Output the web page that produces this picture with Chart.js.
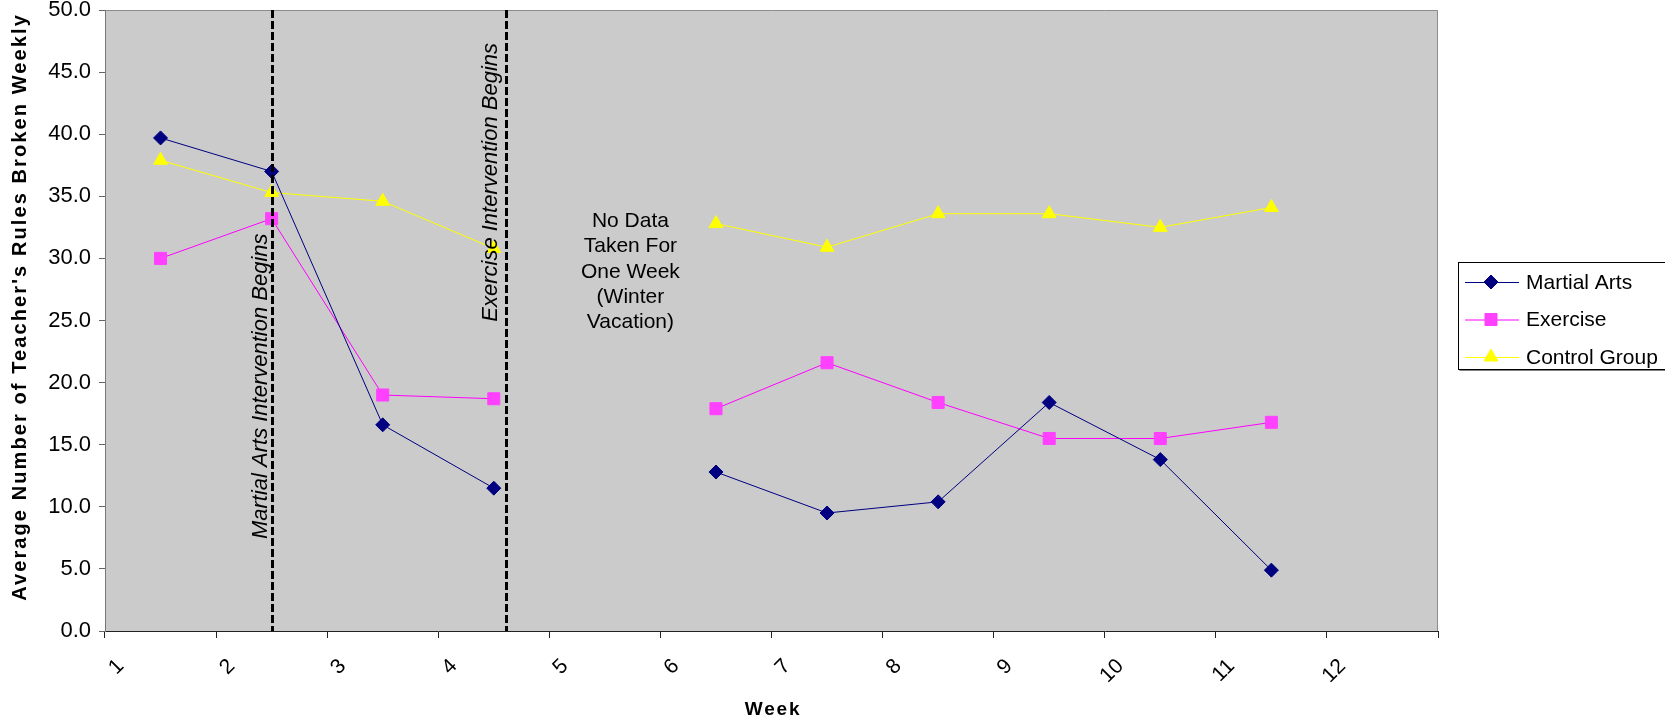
<!DOCTYPE html>
<html>
<head>
<meta charset="utf-8">
<title>Teacher's Rules Broken Weekly</title>
<script src="https://cdn.jsdelivr.net/npm/chart.js@4.4.0/dist/chart.umd.min.js"></script>
<style>
  html, body { margin: 0; padding: 0; background: #fff; }
  #wrap { width: 1665px; height: 721px; position: relative; }
</style>
</head>
<body>
<div id="wrap"><canvas id="rulesChart"></canvas></div>
<script>
// weekly averages, week 5 and week 12 have no data
const weeks = ['1', '2', '3', '4', '5', '6', '7', '8', '9', '10', '11', '12'];
const martialArts  = [39.7, 37.0, 16.6, 11.5, null, 12.8, 9.5, 10.4, 18.4, 13.8, 4.9, null];
const exercise     = [30.0, 33.2, 19.0, 18.7, null, 17.9, 21.6, 18.4, 15.5, 15.5, 16.8, null];
const controlGroup = [37.9, 35.3, 34.6, 30.8, null, 32.8, 30.9, 33.6, 33.6, 32.5, 34.1, null];

// where each intervention starts, in week units
const interventionWeeks  = [2.0, 4.11];
const interventionLabels = ['Martial Arts Intervention Begins', 'Exercise Intervention Begins'];
const gapNote = ['No Data', 'Taken For', 'One Week', '(Winter', 'Vacation)'];

const yTitle = "Average Number of Teacher's Rules Broken Weekly";
const xTitle = 'Week';

const FONT = '"Liberation Sans", Arial, Helvetica, sans-serif';

const decor = {
    id: 'decor',
    beforeDraw(chart) {
        const { ctx, chartArea: a } = chart;
        ctx.save();
        ctx.fillStyle = '#cbcbcb';
        ctx.fillRect(a.left, a.top, a.right - a.left, a.bottom - a.top);
        // plot frame on top and right side
        ctx.strokeStyle = '#8c8c8c';
        ctx.lineWidth = 1;
        ctx.beginPath();
        ctx.moveTo(a.left, a.top + 0.5);
        ctx.lineTo(a.right - 0.5, a.top + 0.5);
        ctx.lineTo(a.right - 0.5, a.bottom);
        ctx.stroke();
        ctx.restore();
    },
    afterDatasetsDraw(chart) {
        const { ctx, chartArea: a, scales } = chart;
        const x = scales.x, y = scales.y;
        ctx.save();

        // dashed intervention lines
        ctx.strokeStyle = '#000';
        ctx.lineWidth = 3;
        ctx.setLineDash([8, 3]);
        interventionWeeks.forEach(w => {
            const px = Math.round(x.getPixelForValue(w - 1)) + 0.5;
            ctx.beginPath();
            ctx.moveTo(px, a.top);
            ctx.lineTo(px, a.bottom);
            ctx.stroke();
        });
        ctx.setLineDash([]);

        // rotated labels next to the lines
        ctx.fillStyle = '#000';
        ctx.font = 'italic 22px ' + FONT;
        ctx.textAlign = 'left';
        ctx.textBaseline = 'alphabetic';
        const labelGap = [5, 9];
        const labelStart = [7.4, 24.9];
        interventionWeeks.forEach((w, i) => {
            const px = x.getPixelForValue(w - 1) - labelGap[i];
            const py = y.getPixelForValue(labelStart[i]);
            ctx.save();
            ctx.translate(px, py);
            ctx.rotate(-Math.PI / 2);
            ctx.fillText(interventionLabels[i], 0, 0);
            ctx.restore();
        });

        // note for the missing week
        ctx.font = '21px ' + FONT;
        ctx.textAlign = 'center';
        ctx.textBaseline = 'middle';
        const nx = x.getPixelForValue(4.23);
        const ny = y.getPixelForValue(33.0);
        gapNote.forEach((line, i) => ctx.fillText(line, nx, ny + i * 25.3));

        ctx.restore();
    },
    afterDraw(chart) {
        const { ctx } = chart;
        ctx.save();
        ctx.fillStyle = '#000';

        // axis titles
        ctx.font = 'bold 20px ' + FONT;
        ctx.textAlign = 'center';
        ctx.textBaseline = 'middle';
        if ('letterSpacing' in ctx) ctx.letterSpacing = '2.1px';
        ctx.save();
        ctx.translate(20, 307);
        ctx.rotate(-Math.PI / 2);
        ctx.fillText(yTitle, 0, 0);
        ctx.restore();

        ctx.font = 'bold 19px ' + FONT;
        if ('letterSpacing' in ctx) ctx.letterSpacing = '1.8px';
        ctx.fillText(xTitle, 773, 710);
        if ('letterSpacing' in ctx) ctx.letterSpacing = '0px';

        // legend box
        const bx = 1458.5, by = 262.5, bh = 107;
        ctx.strokeStyle = '#808080';
        ctx.beginPath();
        ctx.moveTo(bx + 1, by + bh + 1);
        ctx.lineTo(1665, by + bh + 1);
        ctx.stroke();
        ctx.strokeStyle = '#000';
        ctx.lineWidth = 1;
        ctx.strokeRect(bx, by, 300, bh);

        const rows = [282, 319.5, 357];
        ctx.font = '21px ' + FONT;
        ctx.textAlign = 'left';
        ctx.textBaseline = 'middle';
        chart.data.datasets.forEach((ds, i) => {
            const ry = rows[i];
            ctx.strokeStyle = ds.borderColor;
            ctx.lineWidth = 1;
            ctx.beginPath();
            ctx.moveTo(1465, ry + 0.5);
            ctx.lineTo(1519, ry + 0.5);
            ctx.stroke();
            ctx.fillStyle = ds.pointBackgroundColor;
            ctx.strokeStyle = ds.pointBorderColor;
            Chart.helpers.drawPoint(ctx, {
                pointStyle: ds.pointStyle, radius: ds.pointRadius, rotation: 0, borderWidth: 1
            }, 1491, ry);
            ctx.fillStyle = '#000';
            ctx.fillText(ds.label, 1526, ry + 1);
        });

        ctx.restore();
    }
};

new Chart(document.getElementById('rulesChart'), {
    type: 'line',
    data: {
        labels: weeks,
        datasets: [
            {
                label: 'Martial Arts',
                data: martialArts,
                borderColor: '#000080',
                borderWidth: 1,
                pointStyle: 'rectRot',
                pointRadius: 7,
                pointBackgroundColor: '#000080',
                pointBorderColor: '#000080',
                pointBorderWidth: 1
            },
            {
                label: 'Exercise',
                data: exercise,
                borderColor: '#ff00ff',
                borderWidth: 1,
                pointStyle: 'rect',
                pointRadius: 8.5,
                pointBackgroundColor: '#ff40ff',
                pointBorderColor: '#ff40ff',
                pointBorderWidth: 1
            },
            {
                label: 'Control Group',
                data: controlGroup,
                borderColor: '#ffff00',
                borderWidth: 1,
                pointStyle: 'triangle',
                pointRadius: 8,
                pointBackgroundColor: '#ffff00',
                pointBorderColor: '#ffff00',
                pointBorderWidth: 1
            }
        ]
    },
    options: {
        responsive: true,
        maintainAspectRatio: false,
        animation: false,
        spanGaps: false,
        layout: { padding: { top: 10, right: 227, bottom: 0, left: 0 } },
        plugins: {
            legend: { display: false },
            tooltip: { enabled: false }
        },
        scales: {
            x: {
                type: 'category',
                offset: true,
                grid: {
                    offset: true,
                    drawOnChartArea: false,
                    tickLength: 7,
                    color: '#222'
                },
                border: { color: '#222', width: 1 },
                ticks: {
                    autoSkip: false,
                    minRotation: 45,
                    maxRotation: 45,
                    labelOffset: -40,
                    padding: 16,
                    color: '#000',
                    font: { family: FONT, size: 21 }
                },
                afterFit(scale) {
                    scale.height = 90;
                    scale.paddingLeft = 0;
                    scale.paddingRight = 0;
                }
            },
            y: {
                min: 0,
                max: 50,
                grid: {
                    drawOnChartArea: false,
                    tickLength: 6,
                    color: '#666'
                },
                border: { color: '#777', width: 1 },
                ticks: {
                    stepSize: 5,
                    padding: 8,
                    color: '#000',
                    font: { family: FONT, size: 22 },
                    callback: v => v.toFixed(1)
                },
                afterFit(scale) {
                    scale.width = 105;
                    scale.paddingTop = 0;
                    scale.paddingBottom = 0;
                }
            }
        }
    },
    plugins: [decor]
});
</script>
</body>
</html>
